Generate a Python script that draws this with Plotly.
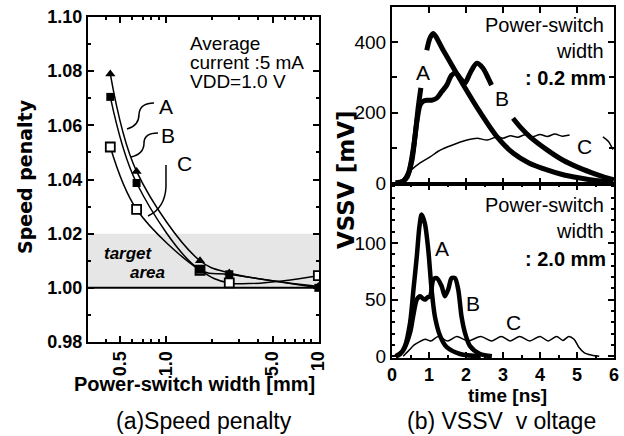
import plotly.graph_objects as go

W, H = 624, 436

# ---------------- (a) Speed penalty data ----------------
width_mm = [0.43, 0.64, 1.67, 2.6, 10]
penalty_A = [1.079, 1.043, 1.0100, 1.0055, 1.0005]
penalty_B = [1.0705, 1.0387, 1.0067, 1.0050, 1.0000]
penalty_C = [1.052, 1.029, 1.0065, 1.0018, 1.0045]
xtick_vals_a = [0.5, 1.0, 5.0, 10]
xtick_text_a = ["0.5", "1.0", "5.0", "10"]
ytick_vals_a = [0.98, 1.00, 1.02, 1.04, 1.06, 1.08, 1.10]

# ---------------- (b) VSSV voltage data ----------------
# width 0.2 mm
t02_A = [0.10, 0.30, 0.41, 0.54, 0.62, 0.70, 0.78, None, 0.94, 1.02, 1.11, 1.40, 1.92, 2.38, 2.84, 3.27, 3.70, 4.19, 4.60, 5.08, 5.50, 5.97]
v02_A = [0, 5, 17, 65, 130, 207, 270, None, 377, 410, 425, 374, 280, 201, 131, 85, 57, 37, 24, 14, 7, 2]
t02_B = [0.10, 0.30, 0.45, 0.58, 0.68, 0.76, 0.84, 0.94, 1.07, 1.21, 1.34, 1.48, 1.61, 1.73, 1.84, 1.97, 2.11, 2.29, 2.46, 2.60, 2.69, None, 3.27, 3.50, 3.73, 4.19, 4.60, 5.08, 5.50, 5.81, 6.0]
v02_B = [0, 5, 30, 100, 180, 222, 232, 235, 235, 241, 259, 278, 306, 312, 298, 284, 312, 340, 326, 298, 278, None, 184, 155, 131, 94, 66, 42, 25, 14, 9]
t02_C = [0.15, 0.30, 0.50, 0.76, 1.03, 1.25, 1.49, 1.76, 2.03, 2.30, 2.57, 2.84, 3.00, 3.20, 3.40, 3.60, 3.80, 4.00, 4.20, 4.40, 4.60, 4.80, None, 5.70, 5.85, 5.97]
v02_C = [0, 10, 35, 57, 74, 90, 102, 113, 122, 127, 122, 131, 127, 134, 130, 137, 131, 138, 132, 139, 133, 136, None, 131, 118, 95]
# width 2.0 mm
t20_A = [0.10, 0.22, 0.35, 0.49, 0.58, 0.67, 0.74, 0.80, 0.89, 0.98, 1.07, 1.16, 1.30, 1.48, 1.84, 2.40]
v20_A = [0, 2, 9, 30, 59, 88, 114, 125, 117, 94, 59, 35, 18, 8, 2, 0]
t20_B = [0.10, 0.30, 0.49, 0.57, 0.67, 0.76, 0.83, 0.89, 0.96, 1.03, 1.12, 1.21, 1.34, 1.43, 1.52, 1.61, 1.70, 1.79, 1.88, 1.97, 2.11, 2.38, 2.70]
v20_B = [0, 5, 21, 35, 50, 53, 51, 50, 52, 53, 68, 69, 62, 53, 59, 69, 69, 59, 35, 21, 9, 2, 0]
t20_C = [0.30, 0.45, 0.60, 0.75, 0.90, 1.05, 1.25, 1.50, 1.75, 2.05, 2.40, 2.70, 2.95, 3.20, 3.45, 3.72, 4.00, 4.22, 4.45, 4.62, 4.78, 4.92, 5.05, 5.20, 5.40, 5.60]
v20_C = [0, 5, 10, 13, 15, 13.5, 17.5, 13.5, 17.5, 13.5, 17.5, 13.5, 17.5, 13.5, 17.5, 13.5, 17.5, 13.5, 17.5, 14, 17.5, 15, 8, 3, 1, 0]
xtick_vals_b = [0, 1, 2, 3, 4, 5, 6]

FONT = "Liberation Sans, Arial, sans-serif"
WIDE = "DejaVu Sans, Liberation Sans, sans-serif"
BLACK = "black"


def px(x, y):
    return x / W, 1 - y / H


fig = go.Figure()

# (a) curves
for ys in (penalty_C, penalty_A, penalty_B):
    fig.add_trace(go.Scatter(x=width_mm, y=ys, mode="lines", line=dict(color=BLACK, width=1.5, shape="spline"),
                             xaxis="x", yaxis="y", showlegend=False, hoverinfo="skip"))
fig.add_trace(go.Scatter(x=width_mm, y=penalty_C, mode="markers",
                         marker=dict(symbol="square", size=9, color="white", line=dict(color=BLACK, width=1.8)),
                         xaxis="x", yaxis="y", showlegend=False))
fig.add_trace(go.Scatter(x=width_mm, y=penalty_A, mode="markers",
                         marker=dict(symbol="triangle-up", size=9, color=BLACK),
                         xaxis="x", yaxis="y", showlegend=False))
fig.add_trace(go.Scatter(x=width_mm, y=penalty_B, mode="markers",
                         marker=dict(symbol="square", size=8, color=BLACK),
                         xaxis="x", yaxis="y", showlegend=False))

# (b) top
for t, v, w in ((t02_C, v02_C, 1.5), (t02_A, v02_A, 5), (t02_B, v02_B, 5)):
    fig.add_trace(go.Scatter(x=t, y=v, mode="lines", line=dict(color=BLACK, width=w, shape="spline", smoothing=0.8),
                             connectgaps=False, xaxis="x2", yaxis="y2", showlegend=False))
# (b) bottom
for t, v, w in ((t20_C, v20_C, 1.5), (t20_A, v20_A, 4.5), (t20_B, v20_B, 4.5)):
    fig.add_trace(go.Scatter(x=t, y=v, mode="lines", line=dict(color=BLACK, width=w, shape="spline", smoothing=0.8),
                             connectgaps=False, xaxis="x3", yaxis="y3", showlegend=False))

axis_common = dict(showline=True, linecolor=BLACK, linewidth=2, mirror="ticks", ticks="inside",
                   ticklen=6, tickwidth=2, tickcolor=BLACK, showgrid=False, zeroline=False,
                   automargin=False, ticklabeloverflow="allow")

fig.update_layout(
    width=W, height=H, margin=dict(l=0, r=0, t=0, b=0),
    paper_bgcolor="white", plot_bgcolor="rgba(0,0,0,0)",
    font=dict(family=FONT, color=BLACK),
    xaxis=dict(axis_common, type="log", range=[-0.513, 1.0043], domain=[88 / W, 319 / W], anchor="y",
               tickvals=xtick_vals_a, ticktext=xtick_text_a, tickangle=-90,
               tickfont=dict(size=18, family=FONT, weight="bold"),
               minor=dict(ticks="inside", ticklen=3, tickwidth=1.5, tickcolor=BLACK,
                          tickvals=[0.4, 0.6, 0.7, 0.8, 0.9, 2, 3, 4, 6, 7, 8, 9])),
    yaxis=dict(axis_common, range=[0.98, 1.10], domain=[1 - 342 / H, 1 - 17 / H], anchor="x",
               tickvals=ytick_vals_a, tickformat=".2f",
               tickfont=dict(size=18, family=FONT, weight="bold"),
               minor=dict(ticks="inside", ticklen=3, tickwidth=1.5, tickcolor=BLACK, dtick=0.01)),
    xaxis2=dict(axis_common, range=[0, 6], domain=[392 / W, 614 / W], anchor="y2", showticklabels=False,
                tickvals=xtick_vals_b),
    yaxis2=dict(axis_common, range=[-3, 500], domain=[1 - 184 / H, 1 - 7 / H], anchor="x2",
                tickvals=[0, 200, 400], tickfont=dict(size=19, family=FONT),
                minor=dict(ticks="inside", ticklen=5, tickwidth=2, tickcolor=BLACK, dtick=100)),
    xaxis3=dict(axis_common, range=[0, 6], domain=[392 / W, 614 / W], anchor="y3",
                tickvals=xtick_vals_b, tickfont=dict(size=18, family=FONT, weight="bold"),
                ticklabelstandoff=-1,
                minor=dict(ticks="inside", ticklen=3, tickwidth=1.5, tickcolor=BLACK, dtick=0.5)),
    yaxis3=dict(axis_common, range=[-1.5, 152], domain=[1 - 358 / H, 1 - 184 / H], anchor="x3",
                tickvals=[0, 50, 100], tickfont=dict(size=19, family=FONT),
                minor=dict(ticks="inside", ticklen=3, tickwidth=1.5, tickcolor=BLACK, dtick=10)),
)

shapes = [
    dict(type="rect", xref="x domain", yref="y", x0=0, x1=1, y0=1.0, y1=1.02,
         fillcolor="#e6e6e6", line=dict(width=0), layer="below"),
    dict(type="line", xref="x domain", yref="y", x0=0, x1=1, y0=1.0, y1=1.0,
         line=dict(color=BLACK, width=2), layer="below"),
]


def ppath(cmds):
    out = []
    for c in cmds:
        if isinstance(c, str):
            out.append(c)
        else:
            x, y = px(*c)
            out.append(f"{x:.4f},{y:.4f}")
    return " ".join(out)


leaders = [
    ["M", (154, 103), "Q", (140, 103), (139, 114), "Q", (139, 126), (127, 129)],
    ["M", (158, 133), "Q", (144, 133), (144, 143), "Q", (144, 154), (131, 157)],
    ["M", (166, 165), "L", (166, 187), "Q", (165, 208), (148, 216)],
]
for lp in leaders:
    shapes.append(dict(type="path", xref="paper", yref="paper", path=ppath(lp),
                       line=dict(color=BLACK, width=1.5)))
fig.update_layout(shapes=shapes)

annotations = []


def ann(text, x, y, size, bold=False, xanchor="center", yanchor="middle", angle=0, italic=False, family=FONT):
    ax, ay = px(x, y)
    annotations.append(dict(text=text, x=ax, y=ay, xref="paper", yref="paper", showarrow=False,
                            xanchor=xanchor, yanchor=yanchor, textangle=angle,
                            font=dict(size=size, family=family, color=BLACK,
                                      weight="bold" if bold else "normal",
                                      style="italic" if italic else "normal")))


# (a) texts
ann("Average", 188, 43, 19, xanchor="left")
ann("current :5 mA", 188, 63, 19, xanchor="left")
ann("VDD=1.0 V", 188, 82, 19, xanchor="left")
ann("A", 166, 106, 21)
ann("B", 168, 135, 21)
ann("C", 184, 163, 21)
ann("target", 128, 253, 17, bold=True, italic=True)
ann("area", 147, 272, 17, bold=True, italic=True)
ann("Speed penalty", 25, 177, 19, bold=True, angle=-90, family=WIDE)
ann("Power-switch width [mm]", 194, 384, 20, bold=True)
ann("(a)Speed penalty", 204, 421, 23)

# (b) texts
ann("VSSV [mV]", 346, 180, 23, bold=True, angle=-90, family=WIDE)
ann("Power-switch", 606, 25, 20, xanchor="right")
ann("width", 606, 51, 20, xanchor="right")
ann(": 0.2 mm", 608, 78, 20, bold=True, xanchor="right")
ann("Power-switch", 606, 205, 20, xanchor="right")
ann("width", 606, 231, 20, xanchor="right")
ann(": 2.0 mm", 608, 259, 20, bold=True, xanchor="right")
ann("A", 423, 72, 21)
ann("B", 502, 98, 21)
ann("C", 584, 146, 21)
ann("A", 442, 248, 21)
ann("B", 473, 303, 21)
ann("C", 513, 322, 21)
ann("time [ns]", 507, 395, 19, bold=True)
ann("(b) VSSV&nbsp;&nbsp;v oltage", 501, 421, 23)

fig.update_layout(annotations=annotations)

fig.write_html("out.html", config={"displayModeBar": False},
               post_script="document.body.style.margin='0';document.body.style.padding='0';"
                           "document.documentElement.style.overflow='hidden';")
